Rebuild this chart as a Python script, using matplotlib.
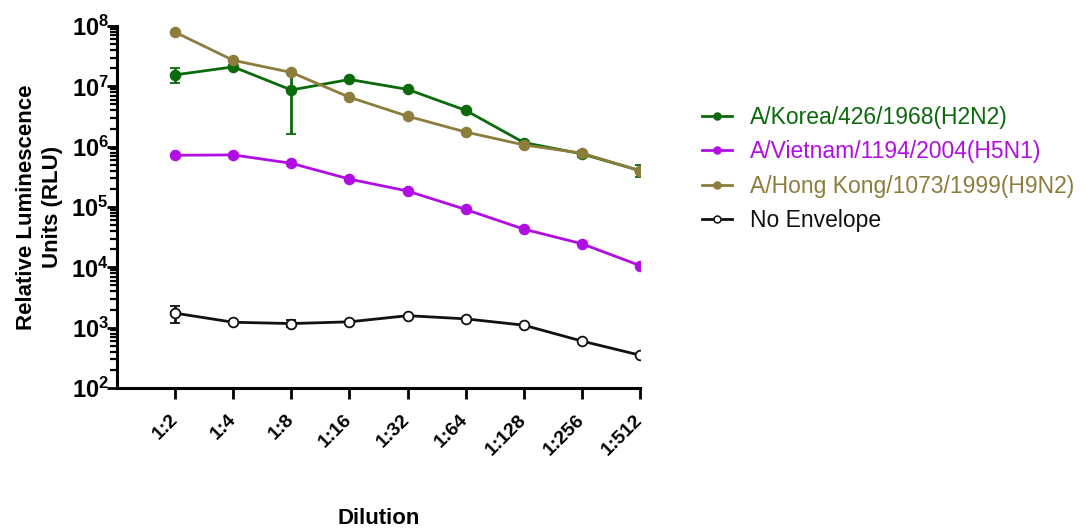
import numpy as np
import matplotlib
matplotlib.use("Agg")
import matplotlib.pyplot as plt
from matplotlib.lines import Line2D
from matplotlib.ticker import LogLocator, FuncFormatter, NullFormatter

# Dilution series and mean luminescence (RLU) per envelope
dilutions = ["1:2", "1:4", "1:8", "1:16", "1:32", "1:64", "1:128", "1:256", "1:512"]

korea_rlu = [1.55e7, 2.1e7, 8.7e6, 1.3e7, 8.9e6, 4.0e6, 1.17e6, 7.6e5, 4.0e5]
korea_sd = [4.3e6, 1.5e6, 7.1e6, 0, 0, 0, 0, 8e4, 9e4]

vietnam_rlu = [7.2e5, 7.3e5, 5.3e5, 2.9e5, 1.84e5, 9.1e4, 4.3e4, 2.46e4, 1.07e4]
vietnam_sd = [0, 0, 0, 0, 1.6e4, 0, 0, 0, 0]

hongkong_rlu = [7.9e7, 2.7e7, 1.7e7, 6.6e6, 3.2e6, 1.75e6, 1.07e6, 7.8e5, 4.0e5]
hongkong_sd = [0, 0, 0, 0, 0, 0, 0, 0, 0]

noenv_rlu = [1.74e3, 1.23e3, 1.17e3, 1.25e3, 1.58e3, 1.4e3, 1.1e3, 6.0e2, 3.5e2]
noenv_sd = [5.5e2, 0, 1.5e2, 0, 0, 0, 0, 0, 0]

series_labels = ["A/Korea/426/1968(H2N2)", "A/Vietnam/1194/2004(H5N1)",
                 "A/Hong Kong/1073/1999(H9N2)", "No Envelope"]

plt.rcParams["font.family"] = ["Liberation Sans", "DejaVu Sans"]
plt.rcParams["mathtext.fontset"] = "custom"
plt.rcParams["mathtext.rm"] = "Liberation Sans:bold"
plt.rcParams["mathtext.bf"] = "Liberation Sans:bold"
plt.rcParams["mathtext.it"] = "Liberation Sans:bold"

W, H = 1086, 528
fig = plt.figure(figsize=(W / 100, H / 100), dpi=100)
ax = fig.add_axes([117 / W, 1 - 388 / H, (640 - 117) / W, (388 - 26) / H])

x = np.arange(len(dilutions))
styles = [
    (korea_rlu, korea_sd, "#0b6a0b", "#0b6a0b"),
    (vietnam_rlu, vietnam_sd, "#b10ee3", "#b10ee3"),
    (hongkong_rlu, hongkong_sd, "#8c7d3c", "#8c7d3c"),
    (noenv_rlu, noenv_sd, "#111111", "white"),
]

handles = []
for (vals, sd, col, face), lab in zip(styles, series_labels):
    vals = np.array(vals)
    sd = np.array(sd)
    lower = np.minimum(sd, vals * 0.999)
    ax.errorbar(x, vals, yerr=[lower, sd], color=col, lw=2.0,
                marker="o", markersize=7, markerfacecolor=face,
                markeredgecolor=col, markeredgewidth=1.3,
                ecolor=col, elinewidth=2.0, capsize=3.6, capthick=2.2)
    handles.append(Line2D([], [], color=col, lw=2.0, marker="o", markersize=5,
                          markerfacecolor=face, markeredgecolor=col,
                          markeredgewidth=1.1))

ax.set_yscale("log")
ax.set_ylim(1e2, 1e8)
ax.set_xlim(-1, 8)

ax.yaxis.set_major_locator(LogLocator(base=10, numticks=10))
ax.yaxis.set_minor_locator(LogLocator(base=10, subs=np.arange(2, 10), numticks=20))
ax.yaxis.set_minor_formatter(NullFormatter())
ax.yaxis.set_major_formatter(
    FuncFormatter(lambda v, p: r"$\mathbf{10^{%d}}$" % int(round(np.log10(v)))))

ax.set_xticks(x)
ax.set_xticklabels(dilutions, rotation=45, ha="right", va="center",
                   rotation_mode="anchor", fontsize=14, fontweight="bold")
ax.tick_params(axis="x", which="major", length=8, width=2, pad=13)
ax.tick_params(axis="y", which="major", length=7, width=2, labelsize=17, pad=-1)
ax.tick_params(axis="y", which="minor", length=5, width=1.6)

for s in ("top", "right"):
    ax.spines[s].set_visible(False)
for s in ("left", "bottom"):
    ax.spines[s].set_linewidth(2.2)

ax.set_ylabel("Relative Luminescence\nUnits (RLU)", fontsize=16,
              fontweight="bold", labelpad=6, linespacing=1.3)
ax.set_xlabel("Dilution", fontsize=16, fontweight="bold", labelpad=36)

fig.legend(handles=handles, labels=series_labels, loc="center left",
           bbox_to_anchor=(702 / W, 1 - 169 / H), frameon=False,
           fontsize=16.5, handlelength=1.3, handletextpad=0.8,
           labelspacing=0.5, borderpad=0, borderaxespad=0,
           labelcolor="linecolor")

fig.savefig("out.png", dpi=100)
